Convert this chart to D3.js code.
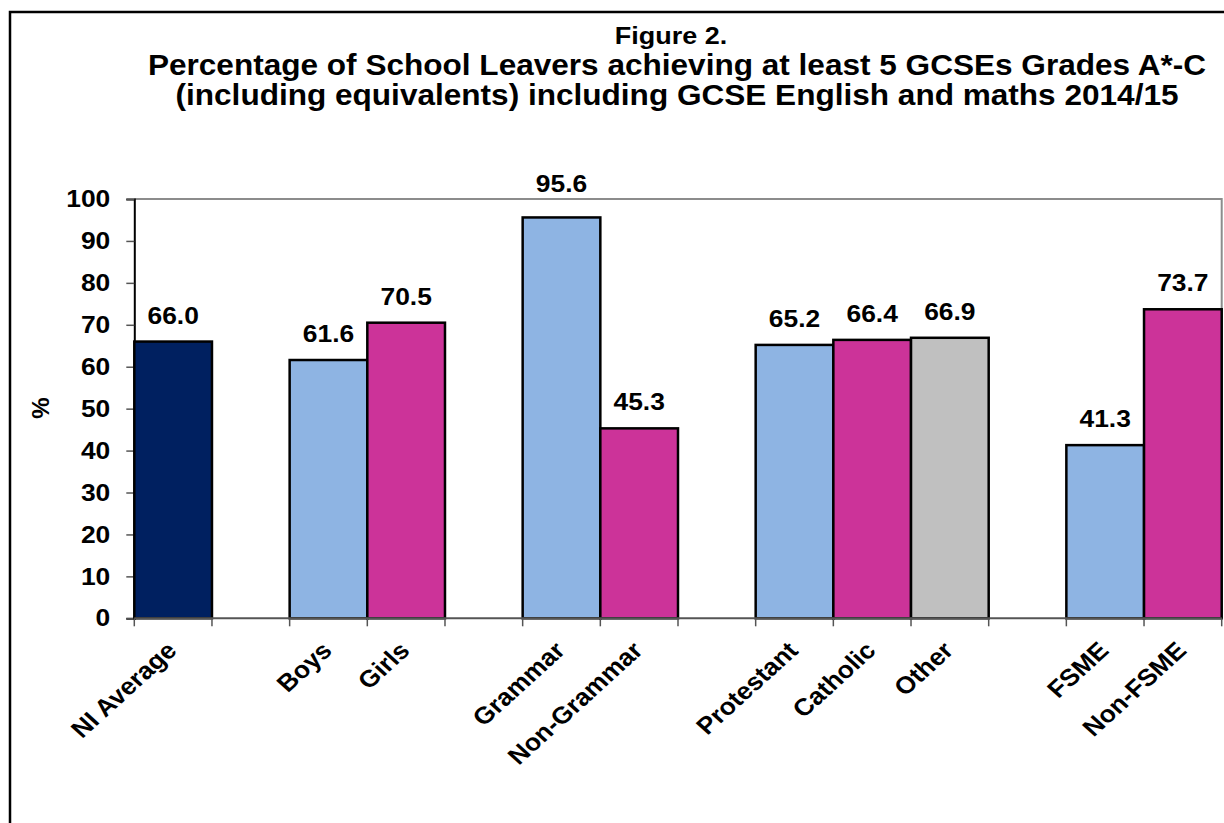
<!DOCTYPE html>
<html>
<head>
<meta charset="utf-8">
<script src="https://cdn.jsdelivr.net/npm/d3@7"></script>
<style>
  html, body { margin: 0; padding: 0; background: #fff; }
  svg { display: block; font-family: Arial, "Liberation Sans", sans-serif; font-weight: bold; }
</style>
</head>
<body>
<svg id="chart" width="1224" height="823"></svg>
<script>
// ---- data ----
const titleLines = [
  "Figure 2.",
  "Percentage of School Leavers achieving at least 5 GCSEs Grades A*-C",
  "(including equivalents) including GCSE English and maths 2014/15"
];
const categories = ["NI Average", "", "Boys", "Girls", "", "Grammar", "Non-Grammar", "", "Protestant", "Catholic", "Other", "", "FSME", "Non-FSME"];
const values     = [66.0, null, 61.6, 70.5, null, 95.6, 45.3, null, 65.2, 66.4, 66.9, null, 41.3, 73.7];
const groups     = ["avg", null, "first", "second", null, "first", "second", null, "first", "second", "third", null, "first", "second"];
const yTicks     = [0, 10, 20, 30, 40, 50, 60, 70, 80, 90, 100];
const yLabel     = "%";

const colors = { avg: "#002060", first: "#8EB4E3", second: "#CC3399", third: "#C0C0C0" };

// ---- layout ----
const svg = d3.select("#chart");
const pLeft = 134.3, pRight = 1221.7, pTop = 199, pBottom = 618.3;
const SX = 1.1; // horizontal text stretch, as in the reference

// outer frame
svg.append("rect").attr("x", 10).attr("y", 12).attr("width", 1240).attr("height", 840)
  .attr("fill", "none").attr("stroke", "#000").attr("stroke-width", 2.5);

// title
const titleX = [671, 677, 677], titleY = [44, 75, 105], titleSize = [24.5, 28.7, 28.7];
svg.append("g").selectAll("text").data(titleLines).join("text")
  .attr("transform", (d, i) => `translate(${titleX[i]},${titleY[i]}) scale(${SX},1)`)
  .attr("text-anchor", "middle").attr("font-size", (d, i) => titleSize[i]).attr("fill", "#000")
  .text(d => d);

const x = d3.scaleBand().domain(d3.range(categories.length)).range([pLeft, pRight]).padding(0);
const y = d3.scaleLinear().domain([0, 100]).range([pBottom, pTop]);

// plot border (top/right gray)
svg.append("path")
  .attr("d", `M${pLeft},${pTop}H${pRight}V${pBottom}`)
  .attr("fill", "none").attr("stroke", "#8c8c8c").attr("stroke-width", 2);

// y axis
const yAxis = svg.append("g").attr("transform", `translate(${pLeft},0)`)
  .call(d3.axisLeft(y).tickValues(yTicks).tickSize(8).tickPadding(16).tickFormat(d3.format("d")));
yAxis.select(".domain").attr("stroke", "#000").attr("stroke-width", 2);
yAxis.selectAll(".tick line").attr("stroke", "#555").attr("stroke-width", 1.5);
yAxis.selectAll(".tick text").attr("font-size", 24).attr("font-weight", "bold")
  .attr("font-family", "Arial, 'Liberation Sans', sans-serif").attr("fill", "#000")
  .attr("x", 0).attr("transform", `translate(-24,0) scale(${SX},1)`);

// y label
svg.append("text").attr("transform", "translate(49,408) rotate(-90)")
  .attr("text-anchor", "middle").attr("font-size", 24).text(yLabel);

// bars
const data = categories.map((c, i) => ({ i, c, v: values[i], g: groups[i] })).filter(d => d.v !== null);
svg.append("g").selectAll("rect").data(data).join("rect")
  .attr("x", d => x(d.i)).attr("width", x.bandwidth())
  .attr("y", d => y(d.v)).attr("height", d => y(0) - y(d.v))
  .attr("fill", d => colors[d.g]).attr("stroke", "#000").attr("stroke-width", 2.5);

// x axis line
svg.append("line").attr("x1", pLeft).attr("x2", pRight).attr("y1", pBottom).attr("y2", pBottom)
  .attr("stroke", "#555").attr("stroke-width", 2);
// x ticks at band boundaries
const bounds = d3.range(categories.length).map(i => x(i)).concat([x.range()[1]]);
svg.append("g").selectAll("line").data(bounds).join("line")
  .attr("x1", d => d).attr("x2", d => d).attr("y1", pBottom).attr("y2", pBottom + 8)
  .attr("stroke", "#555").attr("stroke-width", 1.5);

// value labels (moved above the plot's top border if they would sit on it)
function labelY(v) {
  const ly = y(v) - 18;
  return (ly > pTop - 7 && ly < pTop + 22) ? pTop - 7 : ly;
}
svg.append("g").selectAll("text").data(data).join("text")
  .attr("transform", d => `translate(${x(d.i) + x.bandwidth() / 2},${labelY(d.v)}) scale(${SX},1)`)
  .attr("text-anchor", "middle").attr("font-size", 24).attr("fill", "#000")
  .text(d => d3.format(".1f")(d.v));

// category labels
svg.append("g").selectAll("text").data(categories.map((c, i) => ({ c, i })).filter(d => d.c !== "")).join("text")
  .attr("transform", d => `translate(${x(d.i) + x.bandwidth() / 2 + 5},652) scale(${SX},1) rotate(-45)`)
  .attr("text-anchor", "end").attr("font-size", 24).attr("fill", "#000")
  .text(d => d.c);
</script>
</body>
</html>
